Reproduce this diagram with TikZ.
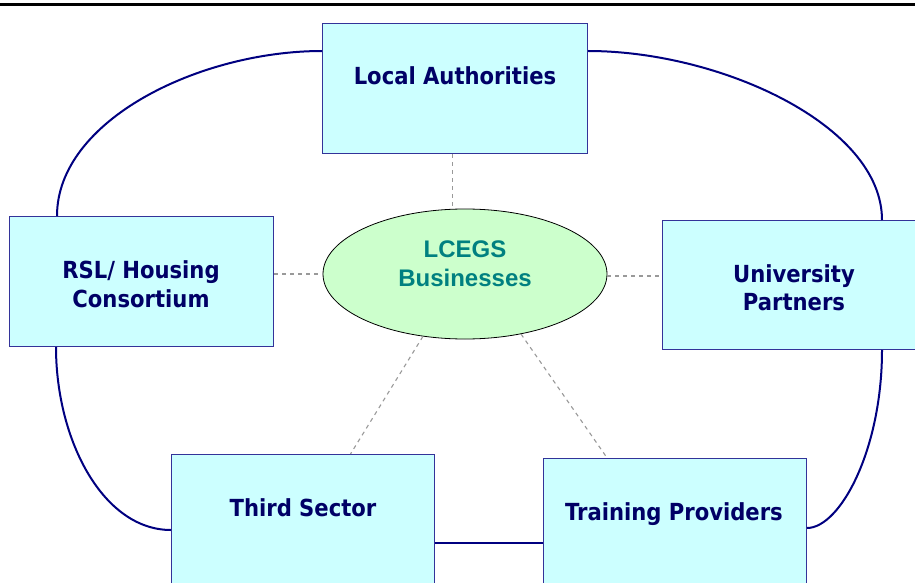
\documentclass[tikz,border=0pt]{standalone}
\usepackage{fontspec}
\usetikzlibrary{shapes.geometric,calc}
\newfontfamily\boxfont{DejaVu Sans Condensed}
\newfontfamily\hubfont{Liberation Sans}
\definecolor{boxfill}{HTML}{CCFFFF}
\definecolor{boxline}{HTML}{333399}
\definecolor{boxtext}{HTML}{000066}
\definecolor{linkcol}{HTML}{000080}
\definecolor{hubfill}{HTML}{CCFFCC}
\definecolor{hubtext}{HTML}{008080}
\definecolor{dashcol}{HTML}{999999}
\tikzset{
  orgbox/.style={draw=boxline, fill=boxfill, line width=1pt, inner sep=0pt,
    minimum height=130pt, anchor=north west},
  boxlabel/.style={font=\boxfont\bfseries\fontsize{23.5}{28}\selectfont, text=boxtext,
    anchor=base, inner sep=0pt},
  hublabel/.style={font=\hubfont\bfseries\fontsize{24}{29}\selectfont, text=hubtext,
    anchor=base, inner sep=0pt},
  link/.style={draw=linkcol, line width=2pt},
  dashlink/.style={draw=dashcol, line width=1.1pt, dash pattern=on 4pt off 4pt}
}
\begin{document}
\begin{tikzpicture}[x=1pt,y=-1pt]
\useasboundingbox (0,0) rectangle (915,583);
\clip (0,0) rectangle (915,583);
\fill[white] (0,0) rectangle (915,583);
% top rule
\coordinate (ruleL) at (0,5);
\coordinate (ruleR) at (915,5);
\draw[black, line width=3pt] (ruleL) -- (ruleR);
% boxes
\node[orgbox, minimum width=265pt] (la) at (322,23) {};
\node[orgbox, minimum width=264pt] (rsl) at (9,216) {};
\node[orgbox, minimum width=263pt, minimum height=129pt] (univ) at (662,220) {};
\node[orgbox, minimum width=263pt] (third) at (171,454) {};
\node[orgbox, minimum width=263pt] (train) at (543,458) {};
% hub
\node[ellipse, draw=black, line width=0.8pt, fill=hubfill, minimum width=284pt,
  minimum height=130pt, inner sep=0pt] (hub) at (465,274) {};
% labels
\node[boxlabel] (laT) at (455,85) {Local Authorities};
\node[boxlabel] (rslT1) at (141,278) {RSL/ Housing};
\node[boxlabel] (rslT2) at (141,307) {Consortium};
\node[boxlabel] (univT1) at (794,282) {University};
\node[boxlabel] (univT2) at (794,310) {Partners};
\node[boxlabel] (thirdT) at (303,516) {Third Sector};
\node[boxlabel] (trainT) at (674,520) {Training Providers};
\node[hublabel] (hubT1) at (465,257) {LCEGS};
\node[hublabel] (hubT2) at (465,286) {Businesses};
% dashed connectors
\draw[dashlink] ([xshift=-2.5pt]la.south) -- ([xshift=-2.5pt]la.south |- hub.north);
\draw[dashlink] (hub.west -| rsl.east) -- (hub.west);
\draw[dashlink] ([yshift=-2pt]hub.east) -- ([yshift=-2pt]hub.east -| univ.west);
\draw[dashlink] (hub.-124.7) -- ($(third.north west)!0.68!(third.north east)$);
\draw[dashlink] (hub.-47.5) -- ($(train.north west)!0.243!(train.north east)$);
% solid connectors
\draw[link] ([yshift=-28pt]la.north west) .. controls (200,51) and (57,120) .. ([xshift=48pt]rsl.north west);
\draw[link] ([yshift=-28pt]la.north east) .. controls (720,51) and (882,125) .. ([xshift=220pt]univ.north west);
\draw[link] ([xshift=47pt]rsl.south west) .. controls (56,440) and (103,530) .. ([yshift=-76pt]third.north west);
\draw[link] ([xshift=220pt]univ.south west) .. controls (882,450) and (840,528) .. ([yshift=-70pt]train.north east);
\draw[link, line width=2.4pt] ([yshift=-89pt]third.north east) -- ([yshift=-89pt]third.north east -| train.west);
\end{tikzpicture}
\end{document}
